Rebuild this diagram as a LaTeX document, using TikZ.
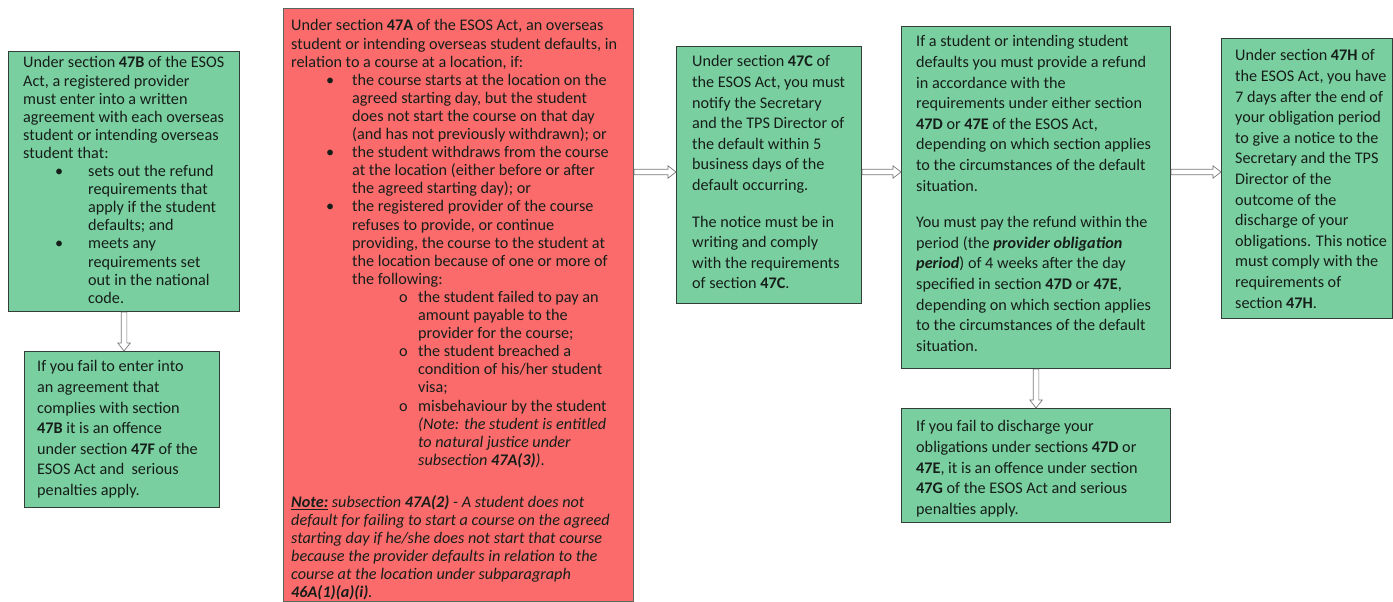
\documentclass[tikz,border=0pt]{standalone}
\usepackage{fontspec}
\setmainfont{Carlito}
\usetikzlibrary{calc}
\definecolor{gfill}{RGB}{122,207,160}
\definecolor{rfill}{RGB}{252,107,107}
\definecolor{bline}{RGB}{50,62,55}
\definecolor{tcol}{RGB}{22,30,26}
\definecolor{arrgray}{RGB}{120,120,120}
\newcommand{\bul}[2]{\hspace*{#1pt}\makebox[#2pt][l]{\textbullet}}
\newcommand{\sbul}[2]{\hspace*{#1pt}\makebox[#2pt][l]{o}}
\newcommand{\ind}[1]{\hspace*{#1pt}}
\tikzset{
  gbox/.style={draw=bline, fill=gfill, line width=1.1pt, rectangle, inner sep=0pt, anchor=north west},
  rbox/.style={draw=bline!80, fill=rfill, line width=1.1pt, rectangle, inner sep=0pt, anchor=north west},
  txt/.style={anchor=north west, align=left, inner sep=0pt, text=tcol},
  fa/.style={font=\fontsize{16.2}{18.1}\selectfont},
  fb/.style={font=\fontsize{16.2}{20.6}\selectfont},
  blockarr/.style={draw=arrgray, fill=white, line width=0.7pt, line join=miter,
    to path={let \p1=(\tikztostart), \p2=(\tikztotarget),
      \n1={veclen(\x2-\x1,\y2-\y1)}, \n2={atan2(\y2-\y1,\x2-\x1)} in
      ($(\p1)+(\n2+90:2.8)$) -- ($(\p1)+(\n2:\n1-8)+(\n2+90:2.8)$) -- ($(\p1)+(\n2:\n1-8)+(\n2+90:6.2)$)
      -- (\p2) -- ($(\p1)+(\n2:\n1-8)+(\n2-90:6.2)$) -- ($(\p1)+(\n2:\n1-8)+(\n2-90:2.8)$)
      -- ($(\p1)+(\n2-90:2.8)$) -- cycle}}
}
\begin{document}
\begin{tikzpicture}[x=1pt,y=1pt]
\useasboundingbox[fill=white] (0,0) rectangle (1393,-602);
% boxes
\node[gbox, minimum width=231pt, minimum height=260pt] (b1) at (8,-51) {};
\node[gbox, minimum width=195pt, minimum height=156pt] (b1b) at (24,-351) {};
\node[rbox, minimum width=350pt, minimum height=593pt] (red) at (283,-8) {};
\node[gbox, minimum width=185pt, minimum height=257pt] (b3) at (676,-46) {};
\node[gbox, minimum width=269pt, minimum height=342pt] (b4) at (901,-26) {};
\node[gbox, minimum width=269pt, minimum height=114pt] (b4b) at (901,-408) {};
\node[gbox, minimum width=171pt, minimum height=280pt] (b5) at (1221,-38) {};
% texts
\node[txt, fa] (b1t) at (23,-56.5) {Under section \textbf{47B} of the ESOS\\
Act, a registered provider\\
must enter into a written\\
agreement with each overseas\\
student or intending overseas\\
student that:\\
\bul{32}{33}sets out the refund\\
\ind{65}requirements that\\
\ind{65}apply if the student\\
\ind{65}defaults; and\\
\bul{32}{33}meets any\\
\ind{65}requirements set\\
\ind{65}out in the national\\
\ind{65}code.};
\node[txt, fb] (b1bt) at (37,-360.5) {If you fail to enter into\\
an agreement that\\
complies with section\\
\textbf{47B} it is an offence\\
under section \textbf{47F} of the\\
ESOS Act and\ \ serious\\
penalties apply.};
\node[txt, fa] (redt) at (291,-19.5) {Under section \textbf{47A} of the ESOS Act, an overseas\\
student or intending overseas student defaults, in\\
relation to a course at a location, if:\\
\bul{35}{26}the course starts at the location on the\\
\ind{61}agreed starting day, but the student\\
\ind{61}does not start the course on that day\\
\ind{61}(and has not previously withdrawn); or\\
\bul{35}{26}the student withdraws from the course\\
\ind{61}at the location (either before or after\\
\ind{61}the agreed starting day); or\\
\bul{35}{26}the registered provider of the course\\
\ind{61}refuses to provide, or continue\\
\ind{61}providing, the course to the student at\\
\ind{61}the location because of one or more of\\
\ind{61}the following:\\
\sbul{108}{19}the student failed to pay an\\
\ind{127}amount payable to the\\
\ind{127}provider for the course;\\
\sbul{108}{19}the student breached a\\
\ind{127}condition of his/her student\\
\ind{127}visa;\\
\sbul{108}{19}misbehaviour by the student\\
\ind{127}\textit{(Note: the student is entitled}\\
\ind{127}\textit{to natural justice under}\\
\ind{127}\textit{subsection \textbf{47A(3)})}.\\[24pt]
\textit{\underline{\textbf{Note:}} subsection \textbf{47A(2)} - A student does not}\\
\textit{default for failing to start a course on the agreed}\\
\textit{starting day if he/she does not start that course}\\
\textit{because the provider defaults in relation to the}\\
\textit{course at the location under subparagraph}\\
\textit{\textbf{46A(1)(a)(i)}.}};
\node[txt, fb] (b3t) at (692,-55.5) {Under section \textbf{47C} of\\
the ESOS Act, you must\\
notify the Secretary\\
and the TPS Director of\\
the default within 5\\
business days of the\\
default occurring.\\[16pt]
The notice must be in\\
writing and comply\\
with the requirements\\
of section \textbf{47C}.};
\node[txt, fb] (b4t) at (916,-35.5) {If a student or intending student\\
defaults you must provide a refund\\
in accordance with the\\
requirements under either section\\
\textbf{47D} or \textbf{47E} of the ESOS Act,\\
depending on which section applies\\
to the circumstances of the default\\
situation.\\[16pt]
You must pay the refund within the\\
period (the \textbf{\textit{provider obligation}}\\
\textbf{\textit{period}}) of 4 weeks after the day\\
specified in section \textbf{47D} or \textbf{47E},\\
depending on which section applies\\
to the circumstances of the default\\
situation.};
\node[txt, fb] (b4bt) at (916,-420.5) {If you fail to discharge your\\
obligations under sections \textbf{47D} or\\
\textbf{47E}, it is an offence under section\\
\textbf{47G} of the ESOS Act and serious\\
penalties apply.};
\node[txt, fb] (b5t) at (1235,-49.5) {Under section \textbf{47H} of\\
the ESOS Act, you have\\
7 days after the end of\\
your obligation period\\
to give a notice to the\\
Secretary and the TPS\\
Director of the\\
outcome of the\\
discharge of your\\
obligations. This notice\\
must comply with the\\
requirements of\\
section \textbf{47H}.};
% arrows
\coordinate (ylev) at (0,-172);
\coordinate (a1s) at (red.east |- ylev);
\coordinate (a1e) at (b3.west |- ylev);
\coordinate (a2s) at (b3.east |- ylev);
\coordinate (a2e) at (b4.west |- ylev);
\coordinate (a3s) at (b4.east |- ylev);
\coordinate (a3e) at (b5.west |- ylev);
\coordinate (v1s) at (b1.south);
\coordinate (v1e) at (b1.south |- b1b.north);
\coordinate (v2s) at (b4.south);
\coordinate (v2e) at (b4b.north);
\draw[blockarr] (a1s) to (a1e);
\draw[blockarr] (a2s) to (a2e);
\draw[blockarr] (a3s) to (a3e);
\draw[blockarr] (v1s) to (v1e);
\draw[blockarr] (v2s) to (v2e);
\end{tikzpicture}
\end{document}
